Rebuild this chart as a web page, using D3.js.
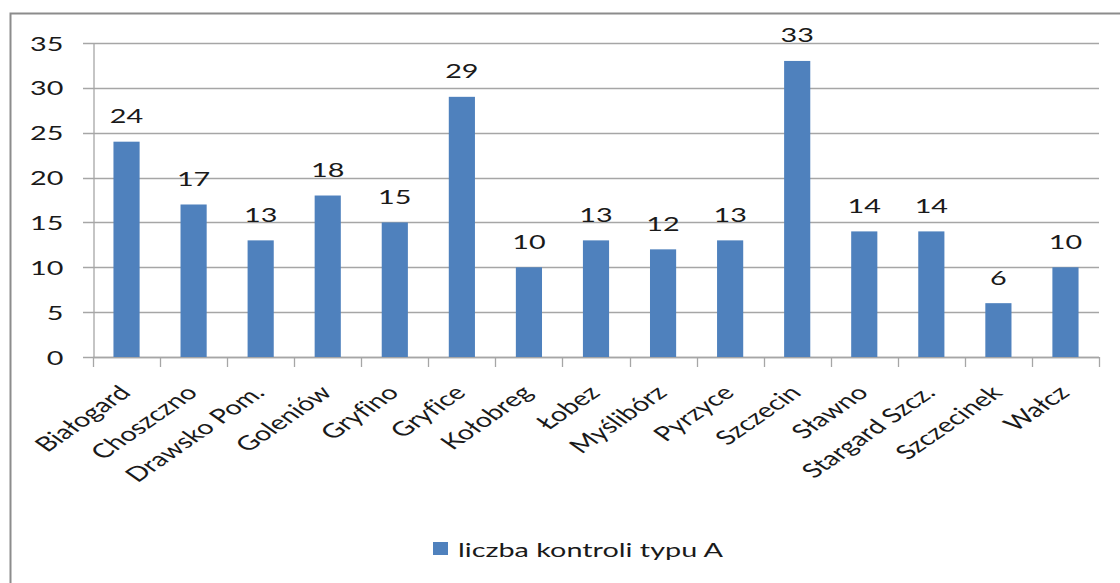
<!DOCTYPE html>
<html>
<head>
<meta charset="utf-8">
<script src="https://cdn.jsdelivr.net/npm/d3@7"></script>
<style>
  body { margin: 0; background: #fff; }
  svg text { font-family: Lato, "Liberation Sans", sans-serif; fill: #1a1a1a; font-variant-ligatures: none; }
</style>
</head>
<body>
<div id="chart-container"></div>
<script>
const categories = ["Białogard", "Choszczno", "Drawsko Pom.", "Goleniów", "Gryfino", "Gryfice",
  "Kołobreg", "Łobez", "Myślibórz", "Pyrzyce", "Szczecin", "Sławno", "Stargard Szcz.",
  "Szczecinek", "Wałcz"];
const values = [24, 17, 13, 18, 15, 29, 10, 13, 12, 13, 33, 14, 14, 6, 10];
const yTicks = [0, 5, 10, 15, 20, 25, 30, 35];
const seriesName = "liczba kontroli typu A";

const W = 1120, H = 583;
const BAR = "#4F81BD";
const GRID = "#a6a6a6";
const FS = 20;   // font size
const SX = 1.44; // source picture is stretched horizontally

const plot = { left: 93, right: 1099, top: 43, bottom: 357 };

const svg = d3.select("#chart-container")
  .append("svg")
  .attr("width", W)
  .attr("height", H);

// outer frame (right and bottom edges fall outside the picture)
svg.append("rect")
  .attr("x", 10.5).attr("y", 13.5)
  .attr("width", W + 20).attr("height", H + 20)
  .attr("fill", "none")
  .attr("stroke", "#8c8c8c")
  .attr("stroke-width", 2);

const x = d3.scaleBand()
  .domain(categories)
  .range([plot.left, plot.right])
  .paddingInner(0.61)
  .paddingOuter(0.305);

const y = d3.scaleLinear().domain([0, 35]).range([plot.bottom, plot.top]);

// gridlines
svg.append("g")
  .selectAll("line")
  .data(yTicks)
  .join("line")
  .attr("x1", plot.left - 10).attr("x2", plot.right)
  .attr("y1", d => Math.round(y(d)) + 0.5).attr("y2", d => Math.round(y(d)) + 0.5)
  .attr("stroke", GRID)
  .attr("stroke-width", 1.3);

// y axis
const yAxis = svg.append("g")
  .attr("transform", `translate(${plot.left + 0.5},0)`)
  .call(d3.axisLeft(y).tickValues(yTicks).tickSize(0).tickFormat(d3.format("d")));
yAxis.select(".domain").attr("stroke", GRID).attr("stroke-width", 1.3);
yAxis.selectAll("text")
  .attr("x", 0).attr("dy", null).attr("y", 7)
  .attr("text-anchor", "end")
  .attr("transform", `translate(-30,0) scale(${SX},1)`)
  .style("font-size", FS + "px")
  .style("font-family", null);

// x axis line + ticks at category boundaries
const step = x.step();
const bounds = d3.range(categories.length + 1).map(i => plot.left + i * step);
svg.append("line")
  .attr("x1", plot.left).attr("x2", plot.right)
  .attr("y1", y(0) + 0.5).attr("y2", y(0) + 0.5)
  .attr("stroke", GRID).attr("stroke-width", 1.3);
svg.append("g")
  .selectAll("line")
  .data(bounds)
  .join("line")
  .attr("x1", d => Math.round(d) + 0.5).attr("x2", d => Math.round(d) + 0.5)
  .attr("y1", y(0)).attr("y2", y(0) + 10)
  .attr("stroke", GRID).attr("stroke-width", 1.3);

// bars
svg.append("g")
  .selectAll("rect")
  .data(values)
  .join("rect")
  .attr("x", (d, i) => x(categories[i]))
  .attr("y", d => y(d))
  .attr("width", x.bandwidth())
  .attr("height", d => y(0) - y(d))
  .attr("fill", BAR);

// value labels
svg.append("g")
  .selectAll("text")
  .data(values)
  .join("text")
  .attr("text-anchor", "middle")
  .attr("transform", (d, i) =>
    `translate(${x(categories[i]) + x.bandwidth() / 2},${y(d) - 18.5}) scale(${SX},1)`)
  .style("font-size", FS + "px")
  .text(d => d);

// category labels, rotated
svg.append("g")
  .selectAll("text")
  .data(categories)
  .join("text")
  .attr("text-anchor", "end")
  .attr("transform", d =>
    `translate(${x(d) + x.bandwidth() / 2 + 5.5},${y(0) + 37}) scale(${SX},1) rotate(-45)`)
  .style("font-size", FS + "px")
  .text(d => d);

// legend
const legend = svg.append("g").attr("transform", "translate(433,542)");
legend.append("rect").attr("width", 15).attr("height", 13).attr("fill", BAR);
legend.append("text")
  .attr("transform", `translate(25,14.5) scale(${SX},1)`)
  .style("font-size", FS + "px")
  .text(seriesName);
</script>
</body>
</html>
